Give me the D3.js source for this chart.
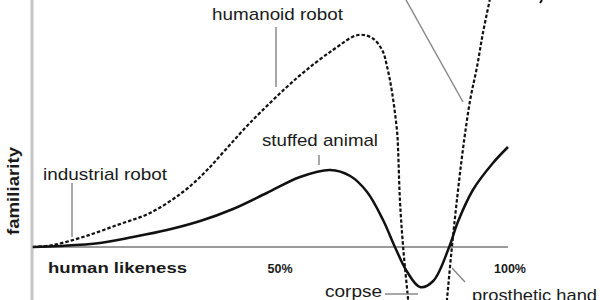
<!DOCTYPE html>
<html>
<head>
<meta charset="utf-8">
<script src="https://cdn.jsdelivr.net/npm/d3@7"></script>
<style>
  body { margin: 0; background: #fff; }
  text { font-family: "Liberation Sans", Arial, sans-serif; fill: #1a1a1a; }
</style>
</head>
<body>
<svg class="chart"></svg>
<script>
// Uncanny valley sketch: familiarity vs human likeness.

// Still objects (solid line)
var stillLikeness = [-4.2, 1.8, 10.5, 17.8, 25.2, 32.5, 39.7, 47.1, 54.4, 61, 65.4, 69.1, 72.6, 75.2, 77.9, 80.7, 83.6, 87.1, 89, 92.3, 96.7, 100];
var stillFamiliarity = [0, 0.5, 2, 5, 8.5, 13, 19, 27, 35, 38.5, 35.5, 27.5, 13.5, 0, -12.5, -20, -17, 0, 12.5, 28.5, 42, 50];

// Moving objects (dashed line)
var movingLikeness = [-4.2, 0.2, 6.8, 14.3, 21.5, 28.7, 33.6, 38, 43.4, 53.7, 61.6, 67.1, 70.2, 72.4, 73.5, 74.6, 75.7, 75.9, 76.3, 77, 78.1, 78.9, 82.5, 85.7, 86.6, 87.7, 88.8, 90.1, 91.7, 93.2, 94.5, 96];
var movingFamiliarity = [0, 1, 5, 11, 17, 27.5, 37.5, 48.5, 62, 84.5, 98.5, 106, 104.5, 98.5, 90, 77, 57, 48.5, 23.5, 0, -26.5, -46.5, -66.5, -46.5, -26.5, 0, 23.5, 48.5, 73.5, 90, 107, 123.5];

var tickValues = [50, 100];
var tickLabels = ["50%", "100%"];

window.onload = function () {
    var width = 600, height = 300;

    var x = d3.scaleLinear().domain([0, 100]).range([52, 508]);
    var y = d3.scaleLinear().domain([0, 100]).range([247, 47]);

    var svg = d3.select("svg.chart")
        .attr("width", width)
        .attr("height", height);

    // y axis (light grey bar) and x axis line
    svg.append("line")
        .attr("x1", 32).attr("x2", 32).attr("y1", 0).attr("y2", height)
        .attr("stroke", "#c4c4c4").attr("stroke-width", 3);
    svg.append("line")
        .attr("x1", x(-4.2)).attr("x2", x(100)).attr("y1", y(0)).attr("y2", y(0))
        .attr("stroke", "#7a7a7a").attr("stroke-width", 1.5);

    var line = d3.line()
        .x(function (d) { return x(d[0]); })
        .y(function (d) { return y(d[1]); })
        .curve(d3.curveCatmullRom.alpha(0.5));

    var still = d3.zip(stillLikeness, stillFamiliarity);
    var moving = d3.zip(movingLikeness, movingFamiliarity);

    svg.append("path").datum(moving)
        .attr("d", line)
        .attr("fill", "none").attr("stroke", "#111")
        .attr("stroke-width", 2.2).attr("stroke-dasharray", "3.5,2");

    svg.append("path").datum(still)
        .attr("d", line)
        .attr("fill", "none").attr("stroke", "#111")
        .attr("stroke-width", 2.5);

    // tick labels
    svg.selectAll("text.tick").data(tickValues).enter().append("text")
        .attr("class", "tick")
        .attr("x", function (d) { return x(d) + (d === 100 ? 2 : 0); })
        .attr("y", 273)
        .attr("text-anchor", "middle")
        .attr("font-size", 12.5).attr("font-weight", "bold")
        .text(function (d, i) { return tickLabels[i]; });

    // axis titles
    svg.append("text")
        .attr("x", 48).attr("y", 273)
        .attr("font-size", 15.5).attr("font-weight", "bold")
        .attr("textLength", 139).attr("lengthAdjust", "spacingAndGlyphs")
        .text("human likeness");
    svg.append("text")
        .attr("transform", "translate(19,191) rotate(-90)")
        .attr("text-anchor", "middle")
        .attr("font-size", 16).attr("font-weight", "bold")
        .attr("textLength", 88).attr("lengthAdjust", "spacingAndGlyphs")
        .text("familiarity");

    // annotation pointers
    var pointers = [
        [276, 27, 276, 87],
        [72, 183, 72, 237],
        [319, 155, 319, 165],
        [385, 294, 418, 294],
        [452, 268, 465, 282],
        [406, 0, 463, 102]
    ];
    svg.selectAll("line.pointer").data(pointers).enter().append("line")
        .attr("class", "pointer")
        .attr("x1", function (d) { return d[0]; }).attr("y1", function (d) { return d[1]; })
        .attr("x2", function (d) { return d[2]; }).attr("y2", function (d) { return d[3]; })
        .attr("stroke", "#8a8a8a").attr("stroke-width", 1.5);
    svg.append("line")
        .attr("x1", 540).attr("y1", 3).attr("x2", 542).attr("y2", 0)
        .attr("stroke", "#111").attr("stroke-width", 2);

    // annotation labels
    var labels = [
        ["humanoid robot", 212, 20, 131],
        ["stuffed animal", 262, 146, 116],
        ["industrial robot", 43, 180, 124],
        ["corpse", 325, 297, 57],
        ["prosthetic hand", 472, 301, 125]
    ];
    svg.selectAll("text.label").data(labels).enter().append("text")
        .attr("class", "label")
        .attr("x", function (d) { return d[1]; })
        .attr("y", function (d) { return d[2]; })
        .attr("font-size", 17)
        .attr("textLength", function (d) { return d[3]; })
        .attr("lengthAdjust", "spacingAndGlyphs")
        .text(function (d) { return d[0]; });
};
</script>
</body>
</html>
